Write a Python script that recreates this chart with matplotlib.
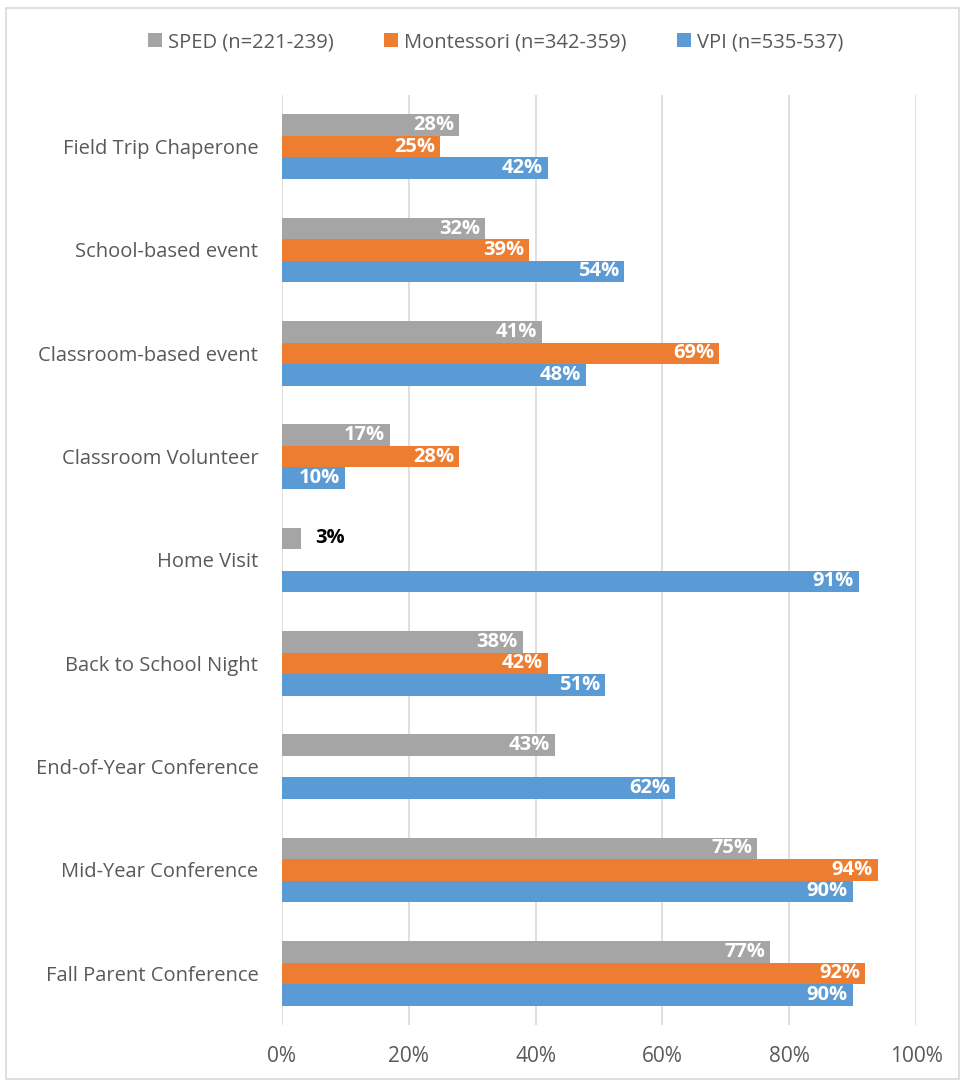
import numpy as np
import matplotlib.pyplot as plt
from matplotlib.patches import Rectangle

categories = ["Field Trip Chaperone", "School-based event", "Classroom-based event",
              "Classroom Volunteer", "Home Visit", "Back to School Night",
              "End-of-Year Conference", "Mid-Year Conference", "Fall Parent Conference"]
sped = [28, 32, 41, 17, 3, 38, 43, 75, 77]
montessori = [25, 39, 69, 28, None, 42, None, 94, 92]
vpi = [42, 54, 48, 10, 91, 51, 62, 90, 90]
series_names = ["SPED (n=221-239)", "Montessori (n=342-359)", "VPI (n=535-537)"]
colors = ["#A5A5A5", "#ED7D31", "#5B9BD5"]
ticks = [0, 20, 40, 60, 80, 100]

plt.rcParams['font.family'] = ['Open Sans', 'DejaVu Sans']
fig = plt.figure(figsize=(9.63, 10.82), dpi=100)
ax = fig.add_axes([0.2928, 0.0527, 0.6584, 0.8595])

y = np.arange(len(categories))
h = 0.208
offsets = [-h, 0, h]
for vals, name, col, off in zip([sped, montessori, vpi], series_names, colors, offsets):
    pos = [yy + off for yy, v in zip(y, vals) if v is not None]
    vv = [v for v in vals if v is not None]
    ax.barh(pos, vv, height=h, color=col, label=name, zorder=3)
    for p, v in zip(pos, vv):
        if v < 8:
            ax.text(v + 2.3, p, f"{v}%", va="center", ha="left", fontsize=14.5,
                    fontweight="bold", color="black", zorder=4)
        else:
            ax.text(v - 0.8, p, f"{v}%", va="center", ha="right", fontsize=14.5,
                    fontweight="bold", color="white", zorder=4)

ax.set_ylim(len(categories) - 0.5, -0.5)
ax.set_xlim(0, 100)
ax.set_yticks(y)
ax.set_yticklabels(categories, fontsize=14.5, color="#595959")
ax.set_xticks(ticks)
ax.set_xticklabels([f"{t}%" for t in ticks], fontsize=15, color="#595959")
ax.tick_params(axis="both", length=0)
ax.tick_params(axis="y", pad=17)
ax.tick_params(axis="x", pad=15)
ax.grid(axis="x", color="#D9D9D9", linewidth=1.2, zorder=0)
for s in ax.spines.values():
    s.set_visible(False)

fig.legend(loc="center", bbox_to_anchor=(0.515, 0.961), ncol=3, frameon=False,
           fontsize=14.5, handlelength=0.7, handleheight=0.7, handletextpad=0.3,
           columnspacing=2.5, labelcolor="#595959")

fig.patches.append(Rectangle((0.006, 0.003), 0.99, 0.99, transform=fig.transFigure,
                             fill=False, edgecolor="#D9D9D9", linewidth=1.2))

fig.savefig("out.png", dpi=100)
